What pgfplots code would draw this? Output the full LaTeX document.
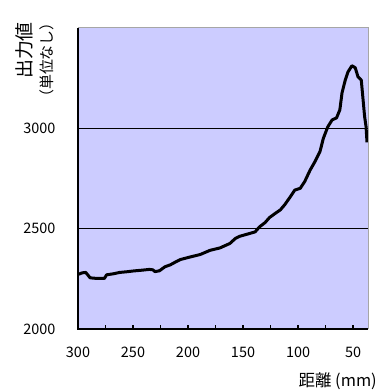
\documentclass[border=0pt]{standalone}
\usepackage{fontspec}
\setmainfont{Noto Sans CJK JP}
\usepackage{pgfplots}
\pgfplotsset{compat=1.18}
\definecolor{bgl}{HTML}{CCCCFF}
\begin{document}
\begin{tikzpicture}[x=1bp,y=1bp]
\path[use as bounding box] (0,0) rectangle (378,392);
\begin{axis}[
  at={(78bp,63bp)}, anchor=south west,
  scale only axis, width=290bp, height=301bp,
  xmin=36.4, xmax=300, x dir=reverse,
  ymin=2000, ymax=3500,
  axis background/.style={fill=bgl},
  axis line style={draw=none},
  xtick={50,100,150,200,250,300},
  minor xtick={75,125,175,225,275},
  ytick={2000,2500,3000},
  ymajorgrids, grid style={black, line width=1.3bp},
  tick align=inside,
  major tick length=4bp, minor tick length=4bp,
  every tick/.style={black, line width=1.2bp},
  ytick style={draw=none},
  xtick pos=bottom,
  /pgf/number format/assume math mode=true,
  /pgf/number format/1000 sep={},
  tick label style={font=\fontsize{14.5}{16}\selectfont},
  yticklabel style={xshift=-19bp},
  xticklabel style={yshift=-14bp},
  clip=false,
]
\addplot[black, line width=3bp, line join=round] coordinates {
(300,2272) (296,2280) (293,2282) (290,2262) (289,2255) (283,2252) (276,2252)
(274,2270) (268,2275) (262,2282) (256,2285) (250,2289) (242,2293) (235,2297)
(232,2295) (230,2286) (226,2290) (221,2310) (216,2320) (212,2332) (207,2346)
(198,2359) (189,2371) (180,2392) (171,2404) (162,2426) (157,2451) (153,2462)
(144,2476) (139,2484) (135,2509) (130,2530) (126,2555) (121,2575) (116,2594)
(112,2620) (107,2659) (103,2692) (98,2701) (94,2734) (89,2792) (84.5,2835)
(80,2885) (77,2950) (73,3007) (69,3042) (65,3052) (62,3092) (60,3177)
(57,3242) (54.5,3282) (51,3312) (48,3302) (45.5,3257) (42.5,3240) (41,3150)
(39.5,3060) (38.2,3010) (37.3,2930)
};
\draw[gray!70, line width=1bp] (rel axis cs:0,1) -- (rel axis cs:1,1) -- (rel axis cs:1,0);
\draw[black, line width=1.3bp] (rel axis cs:0,1) -- (rel axis cs:0,0) -- (rel axis cs:1,0);
\end{axis}
\node[rotate=90, inner sep=0pt, font=\fontsize{19}{20}\selectfont] at (24,341.5) {出力値};
\node[rotate=90, inner sep=0pt, font=\fontsize{15}{16}\selectfont] at (46.5,332) {（単位なし）};
\node[inner sep=0pt, anchor=east, font=\fontsize{16.5}{18}\selectfont] at (377,11) {距離 (mm)};
\end{tikzpicture}
\end{document}
